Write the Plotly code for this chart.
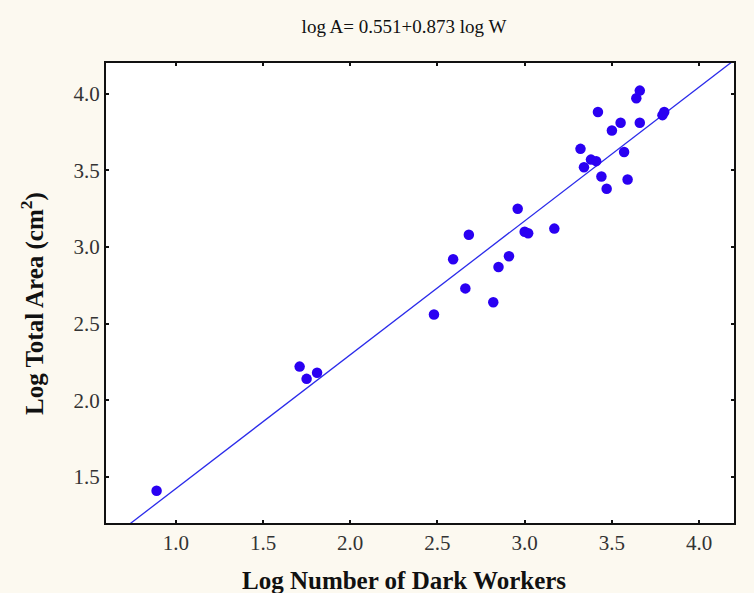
import numpy as np
import plotly.graph_objects as go

# log number of dark workers vs log total comb area
log_workers = [
    0.89, 1.71, 1.75, 1.81, 2.48, 2.59, 2.66, 2.68, 2.82, 2.85, 2.91, 2.96,
    3.00, 3.02, 3.17, 3.32, 3.34, 3.38, 3.41, 3.42, 3.44, 3.47, 3.50, 3.55,
    3.57, 3.59, 3.64, 3.66, 3.66, 3.79, 3.80,
]
log_area = [
    1.41, 2.22, 2.14, 2.18, 2.56, 2.92, 2.73, 3.08, 2.64, 2.87, 2.94, 3.25,
    3.10, 3.09, 3.12, 3.64, 3.52, 3.57, 3.56, 3.88, 3.46, 3.38, 3.76, 3.81,
    3.62, 3.44, 3.97, 4.02, 3.81, 3.86, 3.88,
]

intercept = 0.551
slope = 0.873
fit_x = np.array([0.6, 4.2])
fit_y = intercept + slope * fit_x

SERIF = "Liberation Serif, Times New Roman, serif"
BG = "#fcf9f0"

fig = go.Figure()
fig.add_trace(go.Scatter(
    x=fit_x, y=fit_y, mode="lines",
    line=dict(color="#2b2bea", width=1.3),
    hoverinfo="skip",
))
fig.add_trace(go.Scatter(
    x=log_workers, y=log_area, mode="markers",
    marker=dict(color="#2a00f2", size=10.5, line=dict(width=0)),
))

axis_style = dict(
    showgrid=False, zeroline=False,
    showline=True, linewidth=2, linecolor="#111111", mirror="ticks",
    ticks="inside", ticklen=3, tickwidth=1.5, tickcolor="#111111",
    tickfont=dict(family=SERIF, size=21, color="#333333"),
    dtick=0.5, tickformat=".1f",
)

fig.update_layout(
    width=754, height=593,
    paper_bgcolor=BG, plot_bgcolor="white",
    showlegend=False,
    margin=dict(l=106, r=20, t=63, b=70),
    xaxis=dict(range=[0.6, 4.2], tick0=1.0, **axis_style),
    yaxis=dict(range=[1.2, 4.2], tick0=1.5, **axis_style),
    title=dict(
        text="log A= 0.551+0.873 log W",
        font=dict(family=SERIF, size=19, color="#111111"),
        x=404 / 754, xanchor="center", y=1 - 26 / 593, yanchor="middle",
    ),
    annotations=[
        dict(
            text="<b>Log Number of Dark Workers</b>",
            xref="paper", yref="paper", x=(404 - 106) / 628, y=-(580 - 523) / 460,
            xanchor="center", yanchor="middle", showarrow=False,
            font=dict(family=SERIF, size=25, color="#111111"),
        ),
        dict(
            text="<b>Log Total Area (cm<sup>2</sup>)</b>",
            xref="paper", yref="paper", x=-(106 - 32) / 628, y=(523 - 304) / 460,
            xanchor="center", yanchor="middle", showarrow=False, textangle=-90,
            font=dict(family=SERIF, size=25, color="#111111"),
        ),
    ],
)

# drop the page's default body margin so the figure fills the window
fig.write_html(
    "out.html",
    config={"displayModeBar": False},
    post_script="document.body.style.margin='0';",
)
